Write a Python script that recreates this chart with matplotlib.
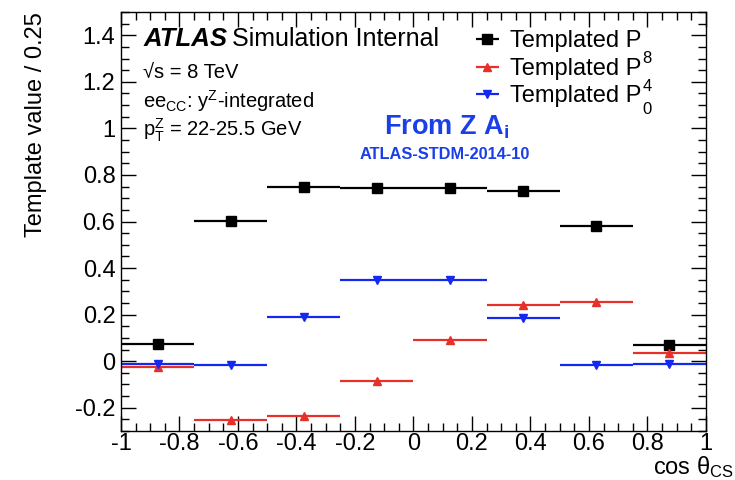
import numpy as np
import matplotlib
matplotlib.use("Agg")
import matplotlib.pyplot as plt
from matplotlib.ticker import MultipleLocator

plt.rcParams["font.family"] = ["Liberation Sans", "DejaVu Sans"]
plt.rcParams["mathtext.fontset"] = "custom"
plt.rcParams["mathtext.rm"] = "Liberation Sans"
plt.rcParams["mathtext.it"] = "Liberation Sans:italic"

# bins of cos theta_CS
bin_edges = [-1.0, -0.75, -0.5, -0.25, 0.0, 0.25, 0.5, 0.75, 1.0]
p8_vals = [0.072, 0.602, 0.748, 0.746, 0.742, 0.733, 0.580, 0.070]
p4_vals = [-0.026, -0.254, -0.237, -0.083, 0.093, 0.240, 0.256, 0.036]
p0_vals = [-0.011, -0.016, 0.190, 0.350, 0.347, 0.186, -0.016, -0.010]

series = [
    ("Templated P", p8_vals, "black", "s", 6.5),
    ("Templated P", p4_vals, "#e8302a", "^", 5.5),
    ("Templated P", p0_vals, "#1428f0", "v", 5.5),
]
index_labels = ["8", "4", "0"]

edges = np.array(bin_edges)
centers = 0.5 * (edges[:-1] + edges[1:])
half = 0.5 * np.diff(edges)

fig = plt.figure(figsize=(7.35, 4.8), dpi=100)
ax = fig.add_axes([0.1646, 0.102, 0.7959, 0.873])

handles = []
for label, vals, col, mk, ms in series:
    h = ax.errorbar(centers, vals, xerr=half, fmt=mk, color=col, ms=ms,
                    lw=1.6, elinewidth=1.6, capsize=0, label=label)
    handles.append(h)

ax.set_xlim(-1, 1)
ax.set_ylim(-0.3, 1.5)
ax.xaxis.set_minor_locator(MultipleLocator(0.05))
ax.yaxis.set_minor_locator(MultipleLocator(0.05))
ax.set_yticks([-0.2, 0, 0.2, 0.4, 0.6, 0.8, 1, 1.2, 1.4])
ax.set_yticklabels(["-0.2", "0", "0.2", "0.4", "0.6", "0.8", "1", "1.2", "1.4"])
ax.set_xticks([-1, -0.8, -0.6, -0.4, -0.2, 0, 0.2, 0.4, 0.6, 0.8, 1])
ax.set_xticklabels(["-1", "-0.8", "-0.6", "-0.4", "-0.2", "0", "0.2", "0.4",
                    "0.6", "0.8", "1"])
ax.tick_params(which="both", direction="in", top=True, right=True, labelsize=17)
ax.tick_params(which="major", length=11, width=1)
ax.tick_params(which="minor", length=5.5, width=1)
ax.tick_params(axis="x", pad=1.5)
ax.tick_params(axis="y", pad=4)
for sp in ax.spines.values():
    sp.set_linewidth(1.0)

ax.set_ylabel("Template value / 0.25", fontsize=17, loc="top", labelpad=20)
fig.text(0.999, 0.012, "cos θ$_{\\mathrm{CS}}$", fontsize=17, ha="right",
         va="baseline")

# ATLAS labels
ax.text(0.038, 0.92, "ATLAS", transform=ax.transAxes, fontsize=18.5,
        fontweight="bold", style="italic", va="baseline")
ax.text(0.189, 0.92, "Simulation Internal", transform=ax.transAxes,
        fontsize=18, va="baseline")
ax.text(0.038, 0.843, "√s = 8 TeV", transform=ax.transAxes,
        fontsize=14.5, va="baseline")
ax.text(0.038, 0.772, r"ee$_{\mathrm{CC}}$: y$^{\mathrm{Z}}$-integrated",
        transform=ax.transAxes, fontsize=14.5, va="baseline")
ax.text(0.038, 0.703, r"p$_{\mathrm{T}}^{\mathrm{Z}}$ = 22-25.5 GeV",
        transform=ax.transAxes, fontsize=14.5, va="baseline")

ax.text(0.557, 0.708, r"From Z A$_{\mathregular{i}}$", transform=ax.transAxes,
        fontsize=19.5, fontweight="bold", color="#1a3ee8", ha="center",
        va="baseline")
ax.text(0.553, 0.650, "ATLAS-STDM-2014-10", transform=ax.transAxes,
        fontsize=11.8, fontweight="bold", color="#1a3ee8", ha="center",
        va="baseline")

leg = ax.legend(handles=handles, loc="upper left",
                bbox_to_anchor=(0.593, 0.956), frameon=False, fontsize=17,
                handlelength=1.65, handletextpad=0.15, labelspacing=0.23,
                borderpad=0, borderaxespad=0)

# index labels drawn as in the original layout
for txt, yy in zip(index_labels, [0.879, 0.812, 0.757]):
    ax.text(0.891, yy, txt, transform=ax.transAxes, fontsize=12,
            va="baseline")

fig.savefig("out.png", dpi=100)
